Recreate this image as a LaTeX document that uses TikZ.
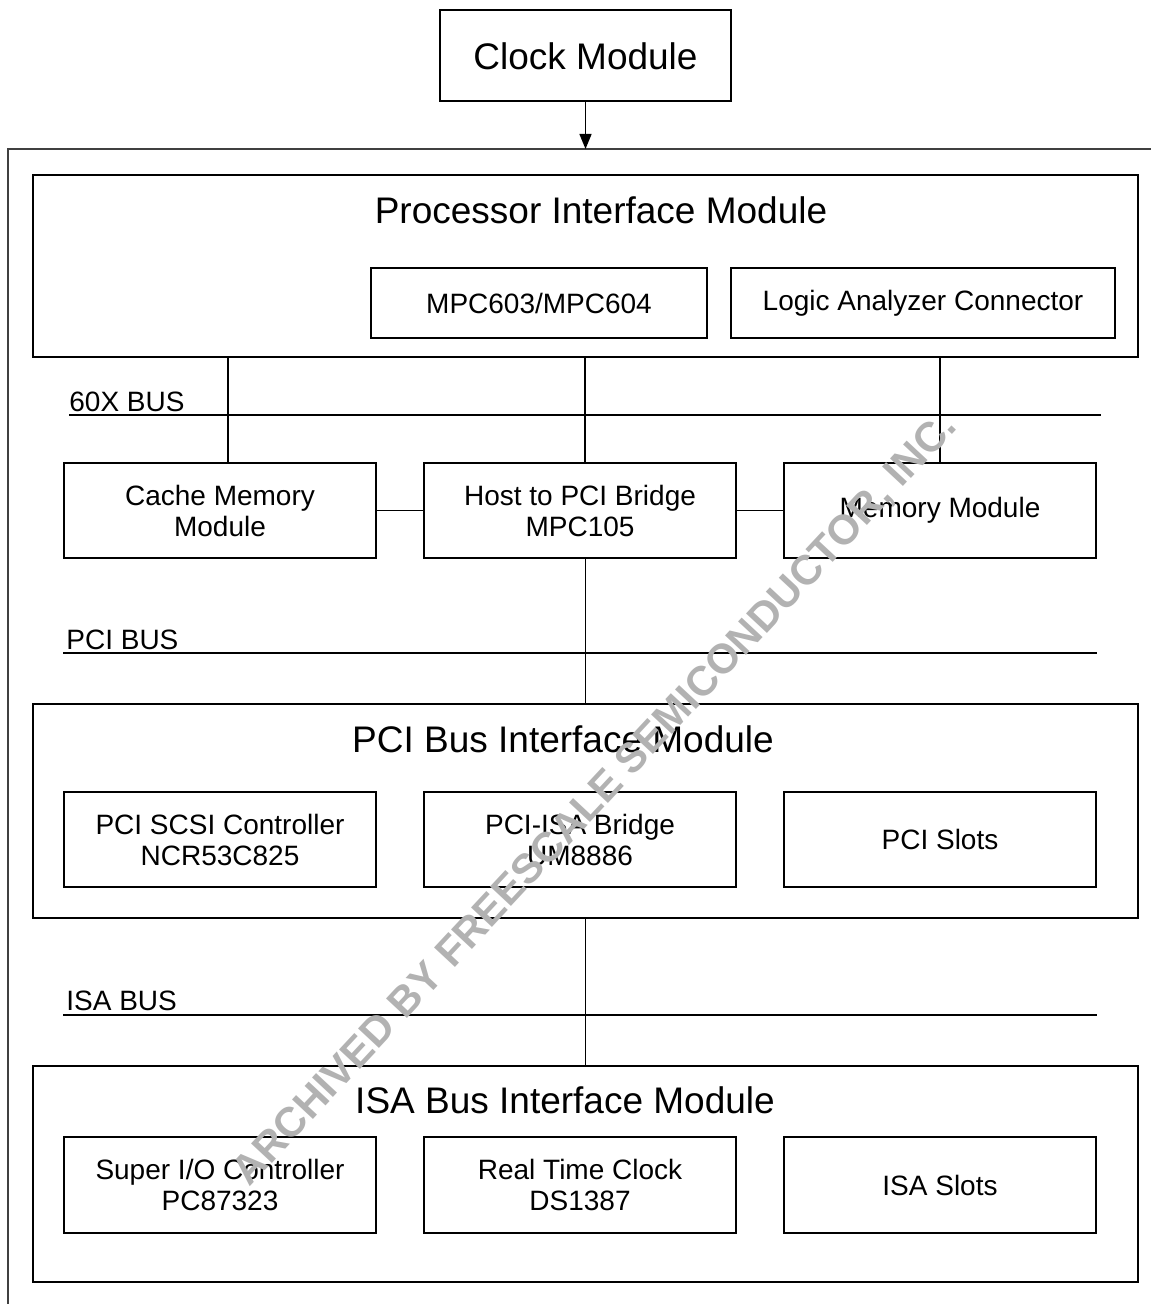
\documentclass[tikz,border=0pt]{standalone}
\usepackage{fontspec}
\setmainfont{Liberation Sans}
\usetikzlibrary{arrows.meta,positioning}

\newcommand\boxfont{\fontsize{14}{15.5}\selectfont}
\newcommand\titlefont{\fontsize{18.5}{22}\selectfont}

\tikzset{
    unitbox/.style={draw, rectangle, line width=0.7pt, inner sep=0pt, minimum width=156pt, minimum height=47.5pt, align=center, font=\boxfont},
    modulebox/.style={draw, rectangle, line width=0.7pt, inner sep=0pt, minimum width=552.5pt},
    moduletitle/.style={anchor=base, inner sep=0pt, font=\titlefont},
    buslabel/.style={anchor=base west, inner sep=0pt, font=\boxfont},
    busline/.style={line width=0.7pt},
    link/.style={line width=0.7pt},
}

\begin{document}
\begin{tikzpicture}[x=0.5pt, y=-0.5pt]

        \useasboundingbox (0,0) rectangle (1151,1304);

        % Outer frame (cut off at the right and bottom)
        \coordinate (framebottom) at (8,1304);
        \coordinate (frametopleft) at (8,149);
        \coordinate (frametopright) at (1151,149);
        \draw[line width=1pt, black!75] (framebottom) -- (frametopleft) -- (frametopright);

        % Clock
        \node (clockmodule) [draw, line width=0.7pt, minimum width=145.5pt, minimum height=45.5pt, inner sep=0pt] at (585.5,55.5) {};
        \node (clocktitle) [moduletitle] at (585.5,70) {Clock Module};

        % Processor Interface Module
        \node (processormodule) [modulebox, minimum height=91pt] at (585.5,266) {};
        \node (processortitle) [moduletitle] at (601,224) {Processor Interface Module};
        \node (mpc) [unitbox, minimum width=168pt, minimum height=35pt] at (539,303) {MPC603/MPC604};
        \node (logicanalyzer) [unitbox, minimum width=192pt, minimum height=35pt] at (923,303) {Logic Analyzer Connector};

        % 60X bus level
        \node (cachememory) [unitbox] at (220,510.5) {Cache Memory\\Module};
        \node (hostbridge) [unitbox] at (580,510.5) {Host to PCI Bridge\\MPC105};
        \node (memorymodule) [unitbox] at (940,510.5) {Memory Module};

        % PCI Bus Interface Module
        \node (pcimodule) [modulebox, minimum height=107pt] at (585.5,811) {};
        \node (pcititle) [moduletitle] at (563,752) {PCI Bus Interface Module};
        \node (scsicontroller) [unitbox] at (220,839.5) {PCI SCSI Controller\\NCR53C825};
        \node (isabridge) [unitbox] at (580,839.5) {PCI-ISA Bridge\\UM8886};
        \node (pcislots) [unitbox] at (940,839.5) {PCI Slots};

        % ISA Bus Interface Module
        \node (isamodule) [modulebox, minimum height=108pt] at (585.5,1174) {};
        \node (isatitle) [moduletitle] at (565,1113) {ISA Bus Interface Module};
        \node (superio) [unitbox, minimum height=48pt] at (220,1185) {Super I/O Controller\\PC87323};
        \node (realtimeclock) [unitbox, minimum height=48pt] at (580,1185) {Real Time Clock\\DS1387};
        \node (isaslots) [unitbox, minimum height=48pt] at (940,1185) {ISA Slots};

        % Buses
        \node (xbuslabel) [buslabel] at (69,411) {60X BUS};
        \node (pcibuslabel) [buslabel] at (66,649) {PCI BUS};
        \node (isabuslabel) [buslabel] at (66,1010) {ISA BUS};
        \coordinate (xbusleft) at (69,415);
        \coordinate (xbusright) at (1101,415);
        \coordinate (pcibusleft) at (63,653);
        \coordinate (pcibusright) at (1097,653);
        \coordinate (isabusleft) at (63,1015);
        \coordinate (isabusright) at (1097,1015);
        \draw[busline] (xbusleft) -- (xbusright);
        \draw[busline] (pcibusleft) -- (pcibusright);
        \draw[busline] (isabusleft) -- (isabusright);

        % Connections
        \draw[-{Triangle[length=7.5pt, width=6pt]}, line width=0.7pt] (clockmodule.south) -- (clockmodule.south |- frametopleft);
        \draw[link] ([xshift=4pt]cachememory.north) -- ([xshift=4pt]cachememory.north |- processormodule.south);
        \draw[link] ([xshift=2.5pt]hostbridge.north) -- ([xshift=2.5pt]hostbridge.north |- processormodule.south);
        \draw[link] (memorymodule.north) -- (memorymodule.north |- processormodule.south);
        \draw[link] (cachememory) -- (hostbridge);
        \draw[link] (hostbridge) -- (memorymodule);
        \draw[link] (pcimodule.north) -- (pcimodule.north |- hostbridge.south);
        \draw[link] (pcimodule.south) -- (isamodule.north);

        % Watermark
        \node (watermark) [rotate=47, inner sep=0pt, text=black!30, font=\bfseries\fontsize{20.8}{20.8}\selectfont] at (596,800) {ARCHIVED BY FREESCALE SEMICONDUCTOR, INC.};

    \end{tikzpicture}
\end{document}
